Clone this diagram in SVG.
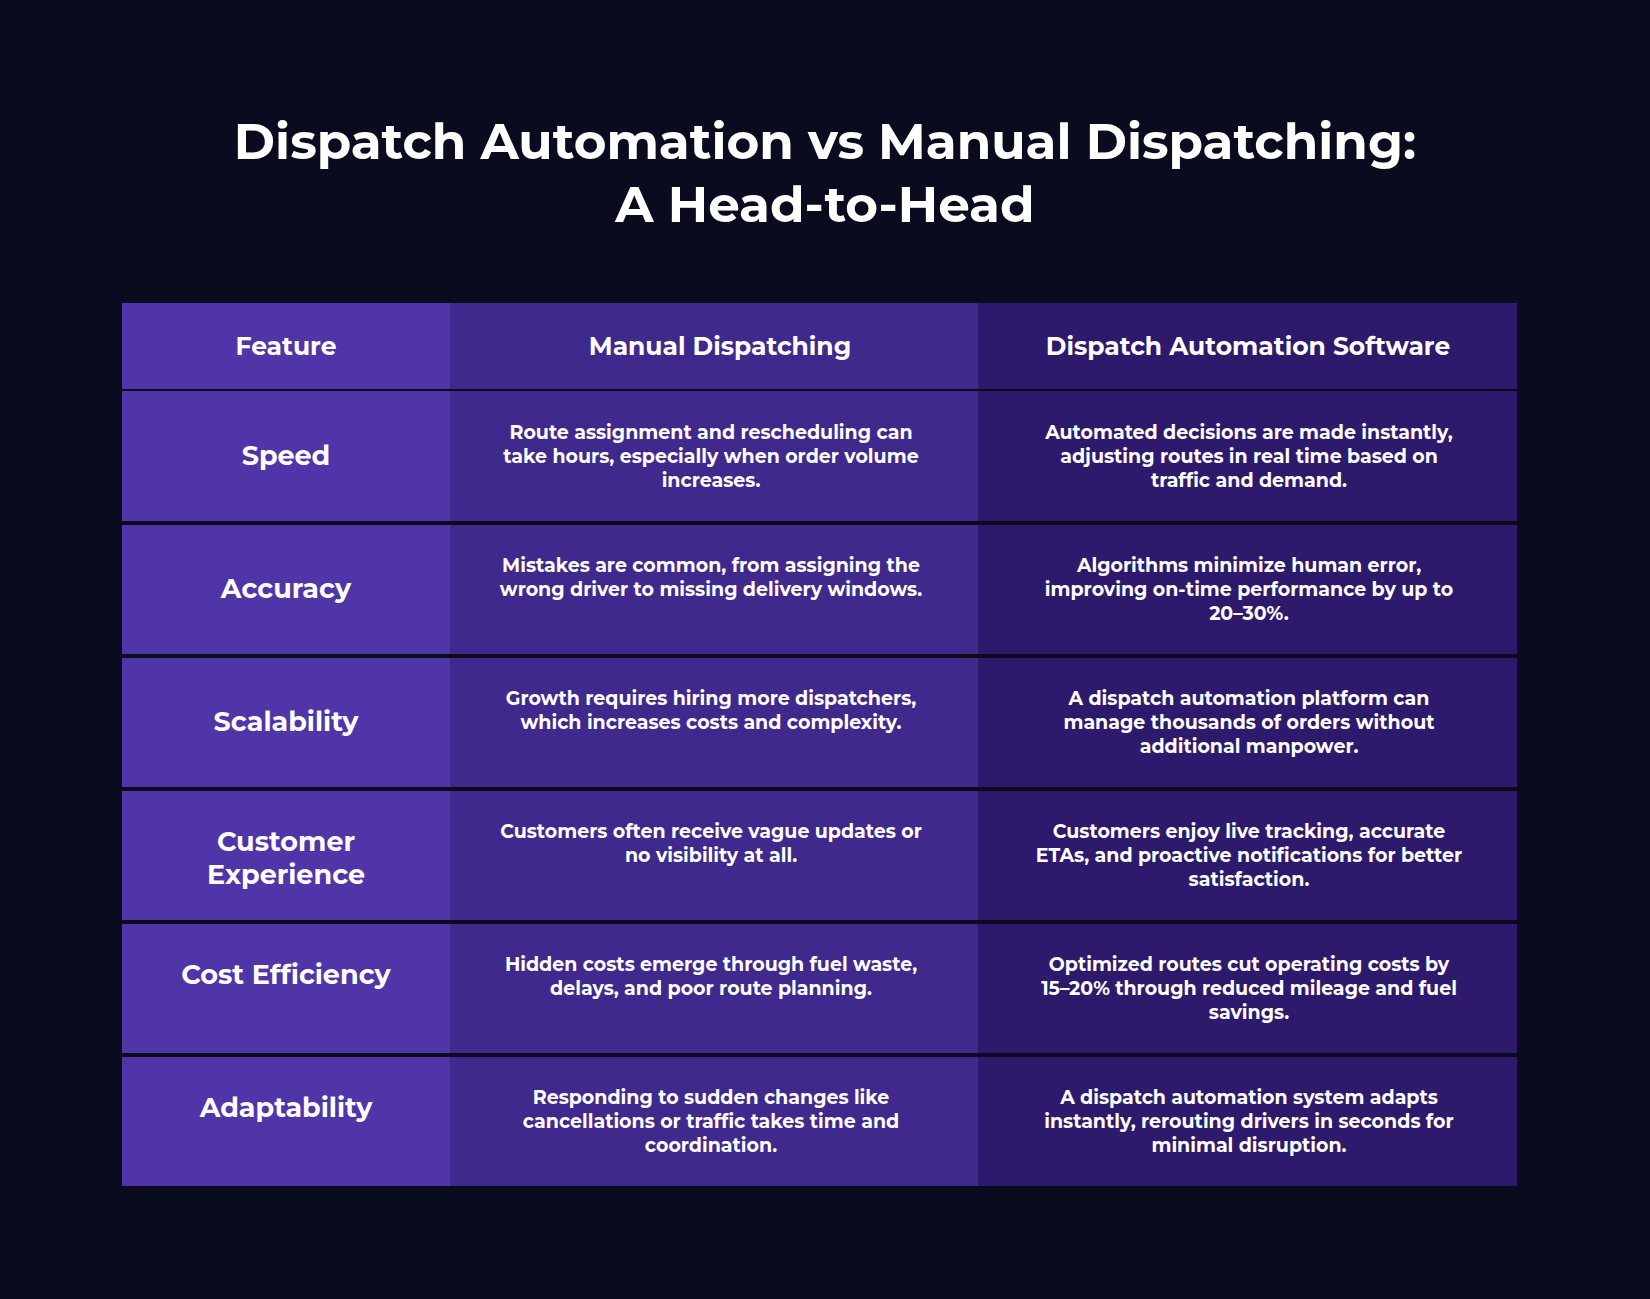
<svg xmlns="http://www.w3.org/2000/svg" width="1650" height="1299" viewBox="0 0 1650 1299">
<style>
text{font-family:"Montserrat","Open Sans","Liberation Sans",sans-serif;font-weight:700;fill:#fff;text-anchor:middle}
.t{font-size:50px}
.h{font-size:25px}
.f{font-size:27px}
.b{font-size:19px}
.c1{fill:#4f35a8}.c2{fill:#40298c}.c3{fill:#2e1a6c}
</style>
<rect width="1650" height="1299" fill="#0a0b1e"/>
<g id="title"><text class="t" x="825" y="159">Dispatch Automation vs Manual Dispatching:</text><text class="t" x="825" y="222">A Head-to-Head</text></g>
<g id="header">
<rect class="c1" x="122" y="303" width="328" height="86"/><rect class="c2" x="450" y="303" width="528" height="86"/><rect class="c3" x="978" y="303" width="539" height="86"/>
<text class="h" x="286" y="355">Feature</text><text class="h" x="720" y="355">Manual Dispatching</text><text class="h" x="1248" y="355">Dispatch Automation Software</text>
</g>
<g id="row-speed">
<rect class="c1" x="122" y="391" width="328" height="130"/><rect class="c2" x="450" y="391" width="528" height="130"/><rect class="c3" x="978" y="391" width="539" height="130"/>
<text class="f" x="286" y="465">Speed</text>
<text class="b" x="711" y="439">Route assignment and rescheduling can</text><text class="b" x="711" y="463">take hours, especially when order volume</text><text class="b" x="711" y="487">increases.</text>
<text class="b" x="1249" y="439">Automated decisions are made instantly,</text><text class="b" x="1249" y="463">adjusting routes in real time based on</text><text class="b" x="1249" y="487">traffic and demand.</text>
</g>
<g id="row-accuracy">
<rect class="c1" x="122" y="525" width="328" height="129"/><rect class="c2" x="450" y="525" width="528" height="129"/><rect class="c3" x="978" y="525" width="539" height="129"/>
<text class="f" x="286" y="598">Accuracy</text>
<text class="b" x="711" y="572">Mistakes are common, from assigning the</text><text class="b" x="711" y="596">wrong driver to missing delivery windows.</text>
<text class="b" x="1249" y="572">Algorithms minimize human error,</text><text class="b" x="1249" y="596">improving on-time performance by up to</text><text class="b" x="1249" y="620">20–30%.</text>
</g>
<g id="row-scalability">
<rect class="c1" x="122" y="658" width="328" height="129"/><rect class="c2" x="450" y="658" width="528" height="129"/><rect class="c3" x="978" y="658" width="539" height="129"/>
<text class="f" x="286" y="731">Scalability</text>
<text class="b" x="711" y="705">Growth requires hiring more dispatchers,</text><text class="b" x="711" y="729">which increases costs and complexity.</text>
<text class="b" x="1249" y="705">A dispatch automation platform can</text><text class="b" x="1249" y="729">manage thousands of orders without</text><text class="b" x="1249" y="753">additional manpower.</text>
</g>
<g id="row-customer">
<rect class="c1" x="122" y="791" width="328" height="129"/><rect class="c2" x="450" y="791" width="528" height="129"/><rect class="c3" x="978" y="791" width="539" height="129"/>
<text class="f" x="286" y="851">Customer</text><text class="f" x="286" y="884">Experience</text>
<text class="b" x="711" y="838">Customers often receive vague updates or</text><text class="b" x="711" y="862">no visibility at all.</text>
<text class="b" x="1249" y="838">Customers enjoy live tracking, accurate</text><text class="b" x="1249" y="862">ETAs, and proactive notifications for better</text><text class="b" x="1249" y="886">satisfaction.</text>
</g>
<g id="row-cost">
<rect class="c1" x="122" y="924" width="328" height="129"/><rect class="c2" x="450" y="924" width="528" height="129"/><rect class="c3" x="978" y="924" width="539" height="129"/>
<text class="f" x="286" y="984">Cost Efficiency</text>
<text class="b" x="711" y="971">Hidden costs emerge through fuel waste,</text><text class="b" x="711" y="995">delays, and poor route planning.</text>
<text class="b" x="1249" y="971">Optimized routes cut operating costs by</text><text class="b" x="1249" y="995">15–20% through reduced mileage and fuel</text><text class="b" x="1249" y="1019">savings.</text>
</g>
<g id="row-adaptability">
<rect class="c1" x="122" y="1057" width="328" height="129"/><rect class="c2" x="450" y="1057" width="528" height="129"/><rect class="c3" x="978" y="1057" width="539" height="129"/>
<text class="f" x="286" y="1117">Adaptability</text>
<text class="b" x="711" y="1104">Responding to sudden changes like</text><text class="b" x="711" y="1128">cancellations or traffic takes time and</text><text class="b" x="711" y="1152">coordination.</text>
<text class="b" x="1249" y="1104">A dispatch automation system adapts</text><text class="b" x="1249" y="1128">instantly, rerouting drivers in seconds for</text><text class="b" x="1249" y="1152">minimal disruption.</text>
</g>
<g id="connectors"/>
</svg>
